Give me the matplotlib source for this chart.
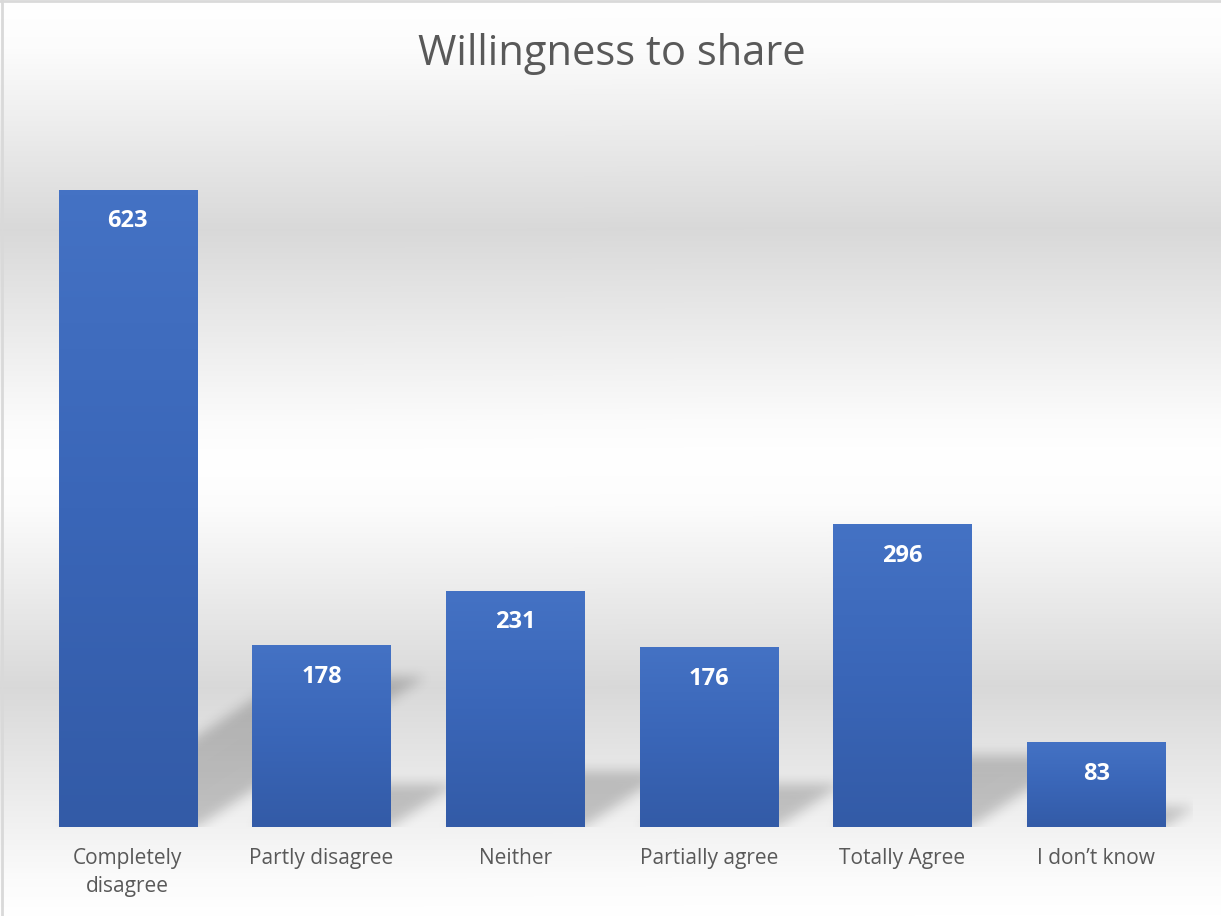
import numpy as np
import matplotlib
matplotlib.use('Agg')
import matplotlib.pyplot as plt
from matplotlib.colors import LinearSegmentedColormap

# ---------------------------------------------------------------------------
categories = ["Completely\ndisagree", "Partly disagree", "Neither",
              "Partially agree", "Totally Agree", "I don\u2019t know"]
counts = [623, 178, 231, 176, 296, 83]
title = "Willingness to share"
# ---------------------------------------------------------------------------

W, H = 1221, 916
fig = plt.figure(figsize=(W/100, H/100), dpi=100)
fig.patch.set_facecolor('white')

# background gradient (white - grey - white), Excel style
bg = fig.add_axes([0, 0, 1, 1], zorder=-10)
bg.set_axis_off()
yy = np.linspace(0, 1, 400)
shade = np.interp(yy, [0, 0.1, 0.5, 0.92, 1.0], [1.0, 0.99, 0.85, 0.985, 1.0])
bgimg = np.dstack([shade, shade, shade])[:, None, :].repeat(2, axis=1).reshape(400, 2, 3)
bg.imshow(bgimg, aspect='auto', extent=[0, 1, 0, 1], origin='upper')
bg.set_xlim(0, 1)
bg.set_ylim(0, 1)
bg.plot([0.0015, 0.0015], [0, 1], color='#d9d9d9', lw=2)
bg.plot([0, 1], [0.9985, 0.9985], color='#d9d9d9', lw=2)

# plot area
left, right, top, bottom = 31, 1193, 111, 827
ax = fig.add_axes([left/W, (H-bottom)/H, (right-left)/W, (bottom-top)/H])
ax.patch.set_alpha(0)
ax.set_xlim(-0.5, len(counts)-0.5)
ax.set_ylim(0, 700)
for s in ax.spines.values():
    s.set_visible(False)
ax.set_yticks([])

x = np.arange(len(counts))
barw = 0.713

# perspective shadows, blurred
nx, ny = (right-left), (bottom-top)
gx = np.linspace(-0.5, len(counts)-0.5, nx)
gy = np.linspace(0, 700, ny)
GX, GY = np.meshgrid(gx, gy)
mask = np.zeros_like(GX)
for xi, h in zip(x, counts):
    sh = 0.235*h
    dx = 0.00189*h
    t = np.clip(GY/sh, 0, None)
    inside = (GY <= sh) & (GX >= xi - barw/2 + t*dx) & (GX <= xi + barw/2 + t*dx)
    mask[inside] = 1.0
sig = 6
k = np.exp(-0.5*(np.arange(-3*sig, 3*sig+1)/sig)**2)
k /= k.sum()
mask = np.apply_along_axis(lambda r: np.convolve(r, k, mode='same'), 1, mask)
mask = np.apply_along_axis(lambda c: np.convolve(c, k, mode='same'), 0, mask)
shadow = np.zeros((ny, nx, 4))
shadow[..., 3] = mask*0.2
ax.imshow(shadow, extent=[-0.5, len(counts)-0.5, 0, 700], origin='lower',
          aspect='auto', zorder=1, interpolation='bilinear')

# bars with vertical gradient
bars = ax.bar(x, counts, width=barw, color='#4472c4', zorder=2)
cmap = LinearSegmentedColormap.from_list('bar', ['#335ba7', '#3a66b8', '#4472c4'])
for b, h in zip(bars, counts):
    b.set_facecolor('none')
    grad = np.linspace(0, 1, 100).reshape(-1, 1)
    im = ax.imshow(grad, cmap=cmap, origin='lower', aspect='auto',
                   extent=[b.get_x(), b.get_x()+b.get_width(), 0, h], zorder=3)
    im.set_clip_path(b)
    ax.text(b.get_x()+b.get_width()/2, h-31, str(h), ha='center', va='center',
            color='white', fontsize=17, fontweight='bold', family='Open Sans', zorder=4)

ax.set_xticks(x)
ax.set_xticklabels(categories, fontsize=15, color='#595959', family='Open Sans',
                   linespacing=1.45)
ax.tick_params(axis='x', length=0, pad=15)

fig.text(612/W, 1-54/H, title, ha='center', va='center', fontsize=30,
         color='#595959', family='Open Sans')

fig.savefig('out.png', dpi=100)
